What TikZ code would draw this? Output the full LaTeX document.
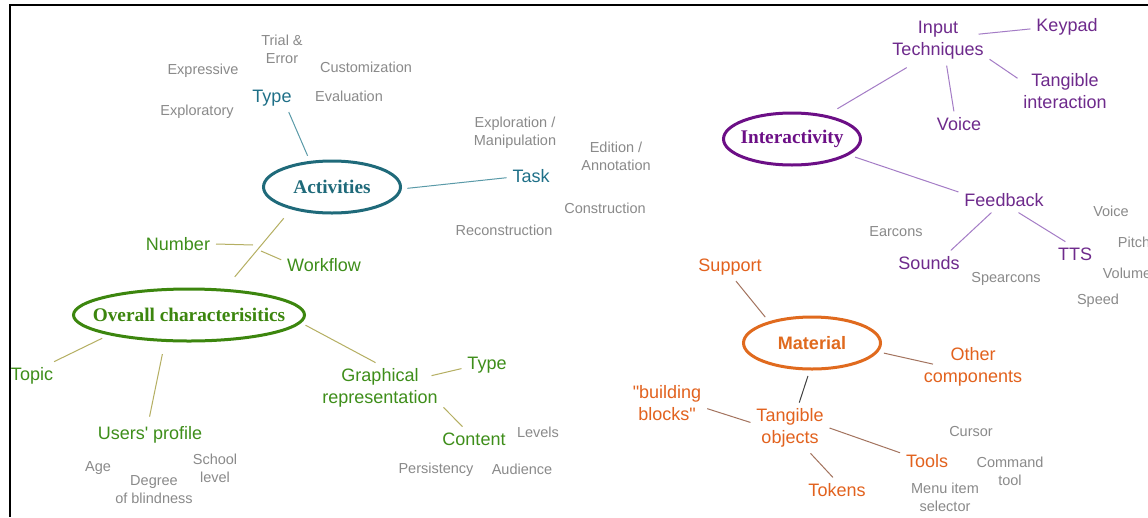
\documentclass[tikz,border=0pt]{standalone}
\usepackage{fontspec}
\setmainfont{Liberation Sans}[Ligatures=TeXOff]
\newfontfamily\titlefont{Liberation Serif}
\usetikzlibrary{shapes.geometric}
\definecolor{cteal}{HTML}{1F6A7A}
\definecolor{ctealtxt}{HTML}{1F7088}
\definecolor{ctealline}{HTML}{5A9AA8}
\definecolor{cgreenE}{HTML}{3C860E}
\definecolor{cgreen}{HTML}{3E8E1A}
\definecolor{coline}{HTML}{B5AF62}
\definecolor{cpurpE}{HTML}{6C0F86}
\definecolor{cpurp}{HTML}{6E2A8C}
\definecolor{cpline}{HTML}{A47CC6}
\definecolor{corE}{HTML}{E06A1E}
\definecolor{cor}{HTML}{E2621E}
\definecolor{cbline}{HTML}{A3735E}
\definecolor{cgray}{HTML}{8A8A8A}
\tikzset{
  graytxt/.style={text=cgray, font=\fontsize{14.5}{18}\selectfont, align=center, inner sep=1pt},
  leaf/.style={font=\fontsize{18}{22}\selectfont, align=center, inner sep=1pt, outer sep=5pt},
  tealleaf/.style={leaf, text=ctealtxt},
  greenleaf/.style={leaf, text=cgreen},
  purpleaf/.style={leaf, text=cpurp},
  orleaf/.style={leaf, text=cor},
  hub/.style={ellipse, draw, line width=3pt, minimum width=137pt, minimum height=52pt,
    inner sep=0pt, outer sep=7pt, font=\titlefont\bfseries\fontsize{19.3}{22}\selectfont},
  tline/.style={draw=ctealline, line width=1pt},
  oline/.style={draw=coline, line width=1pt},
  pline/.style={draw=cpline, line width=1pt},
  bline/.style={draw=cbline, line width=1pt},
  dline/.style={draw=black!75, line width=1pt}
}
\begin{document}
\begin{tikzpicture}[x=1pt,y=-1pt]
\fill[white] (0,0) rectangle (1148,517);
\useasboundingbox (0,0) rectangle (1148,517);
\draw[line width=2pt] (1148,5) -- (10,5) -- (10,517);

% Activities
\node[hub, draw=cteal, text=cteal] (act) at (332,187) {\makebox[0pt]{Activities}};
\node[tealleaf] (type) at (272,98) {Type};
\node[tealleaf] (task) at (531,176) {Task};
\node[graytxt] (g1) at (282,49) {Trial \&\\Error};
\node[graytxt] (g2) at (203,71) {Expressive};
\node[graytxt] (g3) at (366,67) {Customization};
\node[graytxt] (g4) at (349,96) {Evaluation};
\node[graytxt] (g5) at (197,112) {Exploratory};
\node[graytxt] (g6) at (515,133) {Exploration /\\Manipulation};
\node[graytxt] (g7) at (616,156) {Edition /\\Annotation};
\node[graytxt] (g8) at (605,208) {Construction};
\node[graytxt] (g9) at (504,230) {Reconstruction};
\draw[tline] (type.-40) -- (act.128);
\draw[tline] (act.-1) -- (task.184);

% Overall
\node[hub, draw=cgreenE, text=cgreenE, minimum width=231pt] (over) at (189,315) {\makebox[0pt]{Overall characterisitics}};
\node[greenleaf] (number) at (178,244) {Number};
\node[greenleaf] (workflow) at (324,265) {Workflow};
\node[greenleaf] (topic) at (32,376) {Topic};
\node[greenleaf] (users) at (150,435) {Users' profile};
\node[greenleaf] (graph) at (380,388) {Graphical\\representation};
\node[greenleaf] (gtype) at (487,365) {Type};
\node[greenleaf] (content) at (474,439) {Content};
\node[graytxt] (h1) at (98,468) {Age};
\node[graytxt] (h2) at (154,490) {Degree\\of blindness};
\node[graytxt] (h3) at (215,468) {School\\level};
\node[graytxt] (h4) at (538,432) {Levels};
\node[graytxt] (h5) at (436,470) {Persistency};
\node[graytxt] (h6) at (522,469) {Audience};
\coordinate (nj) at (253,245);
\coordinate (wj) at (261,251);
\draw[oline, shorten <=6pt, shorten >=9pt] (act.211) -- (over.38.5);
\draw[oline] (number.east) -- (nj);
\draw[oline] (wj) -- (workflow.173);
\draw[oline] (over.195) -- (topic.33);
\draw[oline, shorten <=7pt, shorten >=4pt] (over.232) -- (users.95);
\draw[oline] (over.-5) -- (graph.100);
\draw[oline] ([xshift=-12pt]graph.11) -- (gtype.188);
\draw[oline] (graph.-17) -- (content.133);

% Interactivity
\node[hub, draw=cpurpE, text=cpurpE] (inter) at (792,139) {\makebox[0pt]{Interactivity}};
\node[purpleaf] (input) at (938,40.5) {Input\\Techniques};
\node[purpleaf] (keypad) at (1067,27) {Keypad};
\node[purpleaf] (tangint) at (1065,91) {Tangible\\interaction};
\node[purpleaf] (voice) at (959,124) {Voice};
\node[purpleaf] (feedback) at (1004,200) {Feedback};
\node[purpleaf] (sounds) at (929,263) {Sounds};
\node[purpleaf] (tts) at (1075,254) {TTS};
\node[graytxt] (k1) at (896,232) {Earcons};
\node[graytxt] (k2) at (1006,279) {Spearcons};
\node[graytxt] (k3) at (1111,211) {Voice};
\node[graytxt] (k4) at (1134,242) {Pitch};
\node[graytxt] (k5) at (1127,273) {Volume};
\node[graytxt] (k6) at (1098,301) {Speed};
\draw[pline, shorten <=5pt, shorten >=4pt] (inter.34.5) -- (input.222);
\draw[pline] ([xshift=-11pt]input.7) -- (keypad.183);
\draw[pline] (input.-20.7) -- (tangint.165);
\draw[pline] (input.-71) -- (voice.112);
\draw[pline] (inter.-16.4) -- (feedback.170.5);
\draw[pline] (feedback.225) -- (sounds.30.6);
\draw[pline] (feedback.-41) -- (tts.128);

% Material
\node[hub, draw=corE, text=corE, font=\bfseries\fontsize{18}{22}\selectfont] (mat) at (812,343) {\makebox[0pt]{Material}};
\node[orleaf] (support) at (730,267) {Support};
\node[orleaf] (other) at (973,367) {Other\\components};
\node[orleaf] (tang) at (790,428) {Tangible\\objects};
\node[orleaf] (blocks) at (667,403) {"building\\blocks"};
\node[orleaf] (tools) at (927,461) {Tools};
\node[orleaf] (tokens) at (837,490) {Tokens};
\node[graytxt] (m1) at (971,432) {Cursor};
\node[graytxt] (m2) at (1010,471) {Command\\tool};
\node[graytxt] (m3) at (945,497) {Menu item\\selector};
\draw[bline] (support.-67.6) -- (mat.151.7);
\draw[bline] (mat.-8) -- ([xshift=15pt]other.177);
\draw[dline] (mat.263) -- (tang.70);
\draw[bline] (tang.172) -- (blocks.-8);
\draw[bline] (tang.0) -- (tools.163);
\draw[bline] (tang.-51) -- (tokens.108);
\end{tikzpicture}
\end{document}
